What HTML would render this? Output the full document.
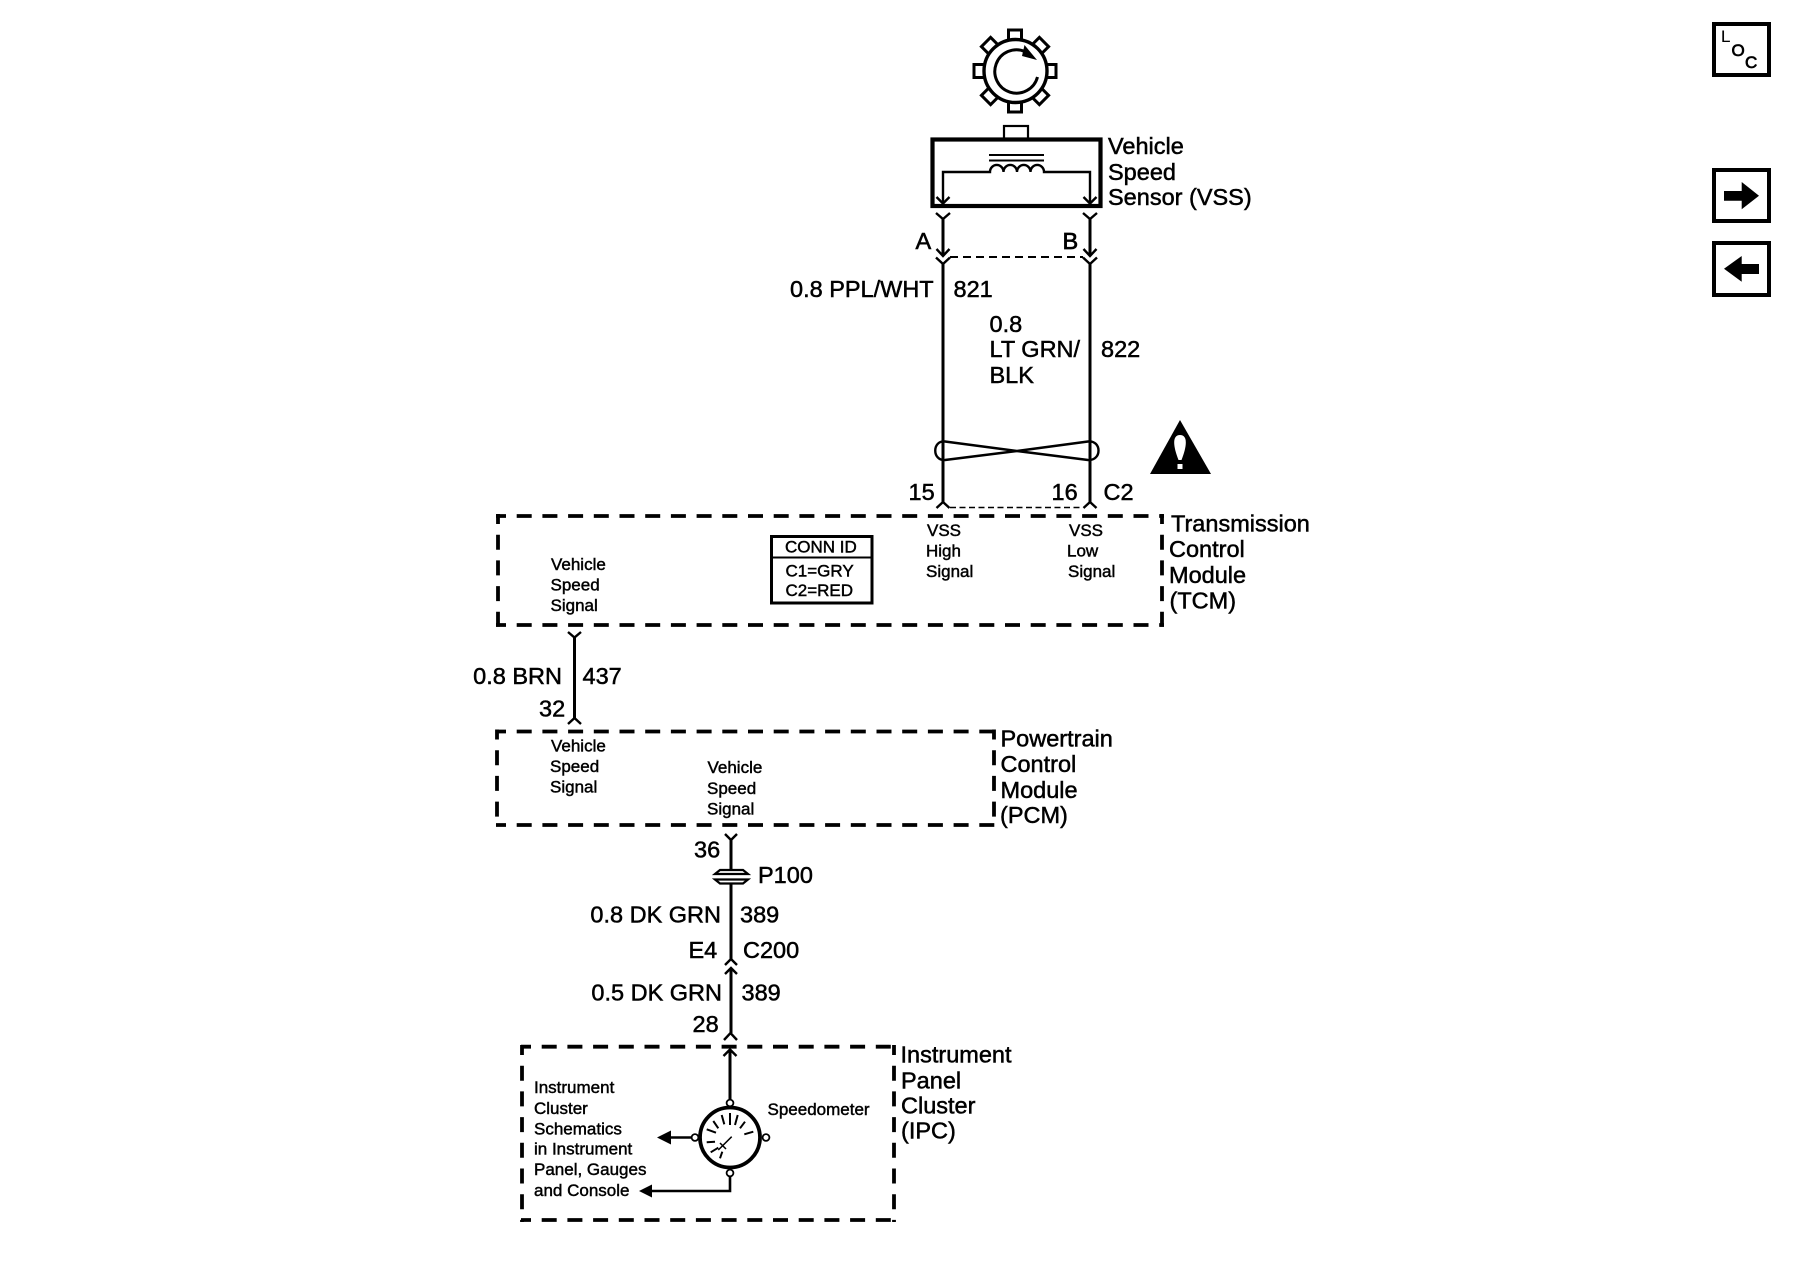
<!DOCTYPE html>
<html>
<head>
<meta charset="utf-8">
<style>
html,body{margin:0;padding:0;background:#fff;width:1800px;height:1280px;overflow:hidden}
svg{display:block}
text{font-family:"Liberation Sans",Arial,sans-serif;fill:#000;stroke:#000;stroke-width:.5}
.l{font-size:23.5px}
.s{font-size:17px;stroke-width:.45}
.w{fill:none;stroke:#000;stroke-width:3}
.f{fill:none;stroke:#000;stroke-width:2.4}
.d{fill:none;stroke:#000;stroke-width:3.8;stroke-dasharray:15 10.7;stroke-dashoffset:5}
.t{fill:none;stroke:#000;stroke-width:2;stroke-dasharray:8 5}
</style>
</head>
<body>
<svg width="1800" height="1280" viewBox="0 0 1800 1280" xmlns="http://www.w3.org/2000/svg">
<!-- gear -->
<g fill="#fff" stroke="#000" stroke-width="3">
<rect x="1008.5" y="30" width="13" height="12" transform="rotate(0 1015 71)"/>
<rect x="1008.5" y="30" width="13" height="12" transform="rotate(45 1015 71)"/>
<rect x="1008.5" y="30" width="13" height="12" transform="rotate(90 1015 71)"/>
<rect x="1008.5" y="30" width="13" height="12" transform="rotate(135 1015 71)"/>
<rect x="1008.5" y="30" width="13" height="12" transform="rotate(180 1015 71)"/>
<rect x="1008.5" y="30" width="13" height="12" transform="rotate(225 1015 71)"/>
<rect x="1008.5" y="30" width="13" height="12" transform="rotate(270 1015 71)"/>
<rect x="1008.5" y="30" width="13" height="12" transform="rotate(315 1015 71)"/>
</g>
<circle cx="1015.5" cy="71" r="31.5" fill="#fff" stroke="#000" stroke-width="3.4"/>
<path d="M1037.5 77A21.7 21.7 0 1 1 1025 51.5" fill="none" stroke="#000" stroke-width="3"/>
<polygon points="1037,60 1024.5,45 1022,56" fill="#000"/>
<!-- sensor -->
<rect x="1004" y="126" width="24" height="13" fill="#fff" stroke="#000" stroke-width="2.2"/>
<rect x="932.5" y="139.5" width="168" height="66.5" fill="#fff" stroke="#000" stroke-width="4.2"/>
<path d="M989 155H1044M989 160.5H1044" stroke="#000" stroke-width="2" fill="none"/>
<path class="f" d="M943 204V172H990A6.7 7 0 0 1 1003.5 172A6.7 7 0 0 1 1017 172A6.7 7 0 0 1 1030.5 172A6.7 7 0 0 1 1044 172H1090V204"/>
<path class="f" d="M936.5 197L943 203.5L949.5 197M1083.5 197L1090 203.5L1096.5 197"/>
<text class="l" x="1108" y="154">Vehicle</text>
<text class="l" x="1108" y="180">Speed</text>
<text class="l" x="1108" y="205">Sensor (VSS)</text>
<!-- wires -->
<path class="w" d="M943 218V256M1090 218V256M943 263V502M1090 263V502"/>
<path class="f" d="M936 213L943 219L950 213M1083 213L1090 219L1097 213"/>
<path class="f" d="M936.5 249L943 256L949.5 249M1083.5 249L1090 256L1096.5 249"/>
<path class="f" d="M936 257.5L943 264L950 257.5M1083 257.5L1090 264L1097 257.5"/>
<path class="t" d="M950 257H1083"/>
<text class="l" x="915.5" y="249" style="stroke-width:.6">A</text>
<text class="l" x="1062.5" y="249" style="stroke-width:.7">B</text>
<text class="l" x="790" y="297">0.8 PPL/WHT</text>
<text class="l" x="953.5" y="297">821</text>
<text class="l" x="989.5" y="332">0.8</text>
<text class="l" x="989.5" y="357">LT GRN/</text>
<text class="l" x="989.5" y="383">BLK</text>
<text class="l" x="1101" y="357">822</text>
<!-- twist -->
<path class="f" d="M1017 451L945 441.5C932 440 932 461 945 460L1017 451L1088 441.5C1102 440 1102 461 1088 460Z"/>
<!-- warning -->
<polygon points="1180,420 1211,474 1150,474" fill="#000"/>
<path d="M1180 435C1172 435 1173 446 1178.5 460L1181.5 460C1187 446 1188 435 1180 435Z" fill="#fff"/>
<rect x="1177.5" y="464" width="5" height="5" fill="#fff"/>
<text class="l" x="908.5" y="500">15</text>
<text class="l" x="1051.5" y="500">16</text>
<text class="l" x="1103.5" y="500">C2</text>
<path class="f" d="M936.5 508L943 502L949.5 508M1083.5 508L1090 502L1096.5 508"/>
<path class="t" d="M950 507.5H1083" style="stroke-width:1.6;stroke-dasharray:6 3.5"/>
<!-- TCM -->
<path class="d" d="M496 516H1164"/>
<path class="d" d="M496 625H1164"/>
<path class="d" d="M498 514V627"/>
<path class="d" d="M1162 514V627"/>
<text class="s" x="551" y="570">Vehicle</text>
<text class="s" x="550.5" y="590.5">Speed</text>
<text class="s" x="550.5" y="611">Signal</text>
<rect x="771.5" y="536.5" width="100.5" height="66.5" fill="none" stroke="#000" stroke-width="3"/>
<path d="M771 557.5H872" stroke="#000" stroke-width="2"/>
<text class="s" x="785" y="552.7">CONN ID</text>
<text class="s" x="785.5" y="576.7">C1=GRY</text>
<text class="s" x="785.5" y="596">C2=RED</text>
<text class="s" x="927" y="536">VSS</text>
<text class="s" x="926" y="556.5">High</text>
<text class="s" x="926" y="577">Signal</text>
<text class="s" x="1069" y="536">VSS</text>
<text class="s" x="1067" y="556.5">Low</text>
<text class="s" x="1068" y="577">Signal</text>
<text class="l" x="1171" y="531.7">Transmission</text>
<text class="l" x="1169" y="557">Control</text>
<text class="l" x="1169" y="583">Module</text>
<text class="l" x="1169.5" y="608.5">(TCM)</text>
<!-- 437 -->
<path class="w" d="M574.5 637V718"/>
<path class="f" d="M568 632L574.5 637.5L581 632M568 724L574.5 718L581 724"/>
<text class="l" x="562" y="684" text-anchor="end">0.8 BRN</text>
<text class="l" x="582.5" y="684">437</text>
<text class="l" x="539" y="716.5">32</text>
<!-- PCM -->
<path class="d" d="M496 731.5H996"/>
<path class="d" d="M496 825H996"/>
<path class="d" d="M497 729.5V827"/>
<path class="d" d="M994 729.5V827"/>
<text class="s" x="551" y="751.7">Vehicle</text>
<text class="s" x="550" y="772">Speed</text>
<text class="s" x="550" y="792.7">Signal</text>
<text class="s" x="707.5" y="773">Vehicle</text>
<text class="s" x="707" y="794">Speed</text>
<text class="s" x="707" y="814.5">Signal</text>
<text class="l" x="1000.5" y="746.7">Powertrain</text>
<text class="l" x="1000.5" y="772">Control</text>
<text class="l" x="1000.5" y="798">Module</text>
<text class="l" x="1000" y="823">(PCM)</text>
<!-- wire 389 -->
<path class="w" d="M731 840V869.5M731 884V959M731 968V1033"/>
<path class="f" d="M725 834L731 840L737 834"/>
<text class="l" x="694" y="857.5">36</text>
<g fill="none" stroke="#000" stroke-width="2.2">
<path d="M715 874L720 870H743L748 874H715Z"/>
<path d="M715 879.5L720 883.5H743L748 879.5H715Z"/>
</g>
<text class="l" x="758" y="883">P100</text>
<text class="l" x="721" y="922.7" text-anchor="end">0.8 DK GRN</text>
<text class="l" x="740" y="922.7">389</text>
<text class="l" x="688.5" y="958">E4</text>
<text class="l" x="743" y="958">C200</text>
<path class="f" d="M725 965L731 959L737 965M725 974L731 968L737 974"/>
<text class="l" x="722" y="1000.7" text-anchor="end">0.5 DK GRN</text>
<text class="l" x="741.5" y="1000.7">389</text>
<text class="l" x="692.5" y="1032">28</text>
<path class="f" d="M724 1040L730.5 1033L737 1040"/>
<!-- IPC -->
<path class="d" d="M521 1046.7H894"/>
<path class="d" d="M521 1220H896"/>
<path class="d" d="M522 1045V1222"/>
<path class="d" d="M894 1045V1222"/>
<text class="l" x="900.5" y="1062.3">Instrument</text>
<text class="l" x="901" y="1088.3">Panel</text>
<text class="l" x="901" y="1113.3">Cluster</text>
<text class="l" x="901" y="1138.3">(IPC)</text>
<path class="w" d="M730 1050V1099"/>
<path class="f" d="M723.5 1056L730 1049.5L736.5 1056"/>
<text class="s" x="534" y="1093">Instrument</text>
<text class="s" x="534" y="1114">Cluster</text>
<text class="s" x="534" y="1134.3">Schematics</text>
<text class="s" x="534" y="1154.5">in Instrument</text>
<text class="s" x="534" y="1175">Panel, Gauges</text>
<text class="s" x="534" y="1196">and Console</text>
<text class="s" x="767.5" y="1115">Speedometer</text>
<circle cx="730" cy="1137.5" r="30" fill="#fff" stroke="#000" stroke-width="3.8"/>
<g fill="#fff" stroke="#000" stroke-width="1.8">
<circle cx="730" cy="1103" r="3.4"/>
<circle cx="695" cy="1137.5" r="3.4"/>
<circle cx="766" cy="1137.5" r="3.4"/>
<circle cx="730" cy="1173" r="3.4"/>
</g>
<g stroke="#000" stroke-width="2" fill="none">
<path d="M730 1113V1125M721.7 1115L724.3 1124.3M737.7 1115L735 1125M713.3 1121L718.3 1128.3M745 1121.7L740 1128.3M706.7 1129.3L716 1132.7M753.3 1131.7L744.3 1134.3M706.7 1142.3L715 1141.7M710.7 1152.3L718.3 1147.7M720 1158.3L722.3 1151.7"/>
<path d="M731.7 1136.7L718.3 1150M720 1143L726 1149" stroke-width="1.5"/>
</g>
<path class="w" d="M691 1137.5H668M730 1176.5V1191H650" style="stroke-width:2.6"/>
<polygon points="657,1137.5 671,1130.5 671,1144.5" fill="#000"/>
<polygon points="639,1191 652,1184.5 652,1197.5" fill="#000"/>
<!-- side icons -->
<g fill="none" stroke="#000" stroke-width="4">
<rect x="1714" y="24" width="55" height="51"/>
<rect x="1714" y="170" width="55" height="51"/>
<rect x="1714" y="243" width="55" height="52"/>
</g>
<text x="1721" y="42" style="font-size:17px;stroke-width:.1">L</text>
<text x="1731.5" y="56" style="font-size:17px;stroke-width:.7">O</text>
<text x="1745" y="68" style="font-size:17px;stroke-width:.7">C</text>
<polygon points="1724,191 1741.7,191 1741.7,182 1759,195.7 1741.7,209.3 1741.7,200.7 1724,200.7" fill="#000"/>
<polygon points="1759,264 1741.7,264 1741.7,256 1724,268.7 1741.7,281.7 1741.7,274 1759,274" fill="#000"/>
</svg>
</body>
</html>
